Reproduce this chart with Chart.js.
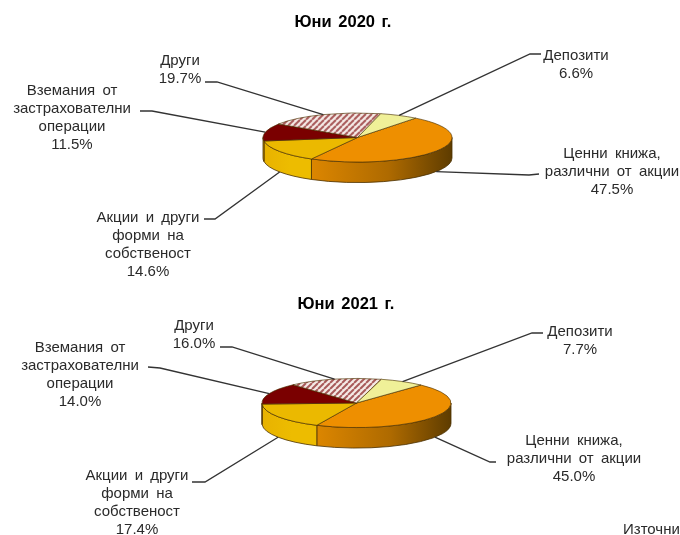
<!DOCTYPE html>
<html>
<head>
<meta charset="utf-8">
<title>Юни 2020 - Юни 2021</title>
<script src="https://cdn.jsdelivr.net/npm/chart.js@4"></script>
<style>
    html, body { margin: 0; padding: 0; background: #fff; overflow: hidden; }
    canvas { position: absolute; left: 0; filter: blur(0.3px); }
    #chart2020 { top: 0; }
    #chart2021 { top: 280px; }
</style>
</head>
<body>
<canvas id="chart2020" width="680" height="280"></canvas>
<canvas id="chart2021" width="680" height="255"></canvas>
<script>
// Data
const categories = ['Ценни книжа, различни от акции', 'Акции и други форми на собственост', 'Вземания от застрахователни операции', 'Други', 'Депозити'];
const values2020 = [47.5, 14.6, 11.5, 19.7, 6.6];
const values2021 = [45.0, 17.4, 14.0, 16.0, 7.7];
const categoryLines = [
    ['Ценни книжа,', 'различни от акции'],
    ['Акции и други', 'форми на', 'собственост'],
    ['Вземания от', 'застрахователни', 'операции'],
    ['Други'],
    ['Депозити']
];

// Colors
const topColors = ['#EE8F00', '#EBB900', '#7A0000', null, '#F0F098'];
const wallColors = [
    ['#DC8600', '#AE6A00', '#5E3C00'],
    ['#E8B200', '#EDBC00', '#EDBC00'],
    ['#E8B200', '#E8B200', '#E8B200'],
    ['#B07070', '#B07070', '#B07070'],
    ['#D8D880', '#D8D880', '#D8D880']
];
const edgeColor = '#4A3000';
const leaderColor = '#333';
const textColor = '#2a2a2a';

// Label layout per category: text center x, first line y, leader start/elbow, wall anchor
const layout2020 = [
    { x: 612, y: 153.5, from: [539, 174], elbow: [529, 175], wall: true },
    { x: 148, y: 217.5, from: [204, 219], elbow: [215, 219], wall: true },
    { x: 72, y: 90.5, from: [140, 111], elbow: [152, 111], wall: false },
    { x: 180, y: 61, from: [205, 82], elbow: [217, 82], wall: false },
    { x: 576, y: 55.5, from: [541, 54], elbow: [530, 54], wall: false }
];
const layout2021 = [
    { x: 574, y: 160.5, from: [496, 182], elbow: [490, 182], wall: true },
    { x: 137, y: 195.5, from: [192, 202], elbow: [205, 202], wall: true },
    { x: 80, y: 67.5, from: [148, 87], elbow: [160, 88], wall: false },
    { x: 194, y: 46, from: [220, 67], elbow: [232, 67], wall: false },
    { x: 580, y: 51.5, from: [543, 53], elbow: [532, 53], wall: false }
];

const squash = 0.26;
const depth = 20.5;

// Helper: hatch pattern for "Други"
function makeHatch() {
    const size = 6;
    const c = document.createElement('canvas');
    c.width = size;
    c.height = size;
    const g = c.getContext('2d');
    g.fillStyle = '#F6ECE8';
    g.fillRect(0, 0, size, size);
    g.strokeStyle = '#A85858';
    g.lineWidth = 2;
    g.beginPath();
    for (let i = -size; i <= size * 2; i += size) {
        g.moveTo(i, size);
        g.lineTo(i + size, 0);
    }
    g.stroke();
    const pattern = g.createPattern(c, 'repeat');
    // the pie is drawn squashed, keep the hatch square
    pattern.setTransform(new DOMMatrix().scale(1, 1 / squash));
    return pattern;
}

// Plugin: squash the pie and draw the side wall under it
const pie3d = {
    id: 'pie3d',
    beforeDatasetsDraw(chart) {
        const ctx = chart.ctx;
        const arcs = chart.getDatasetMeta(0).data;
        const cx = arcs[0].x, cy = arcs[0].y, rx = arcs[0].outerRadius, ry = rx * squash;

        ctx.save();
        ctx.strokeStyle = edgeColor;
        ctx.lineWidth = 0.8;
        arcs.forEach((arc, i) => {
            [-2, 0, 2].forEach(k => {
                const lo = Math.max(arc.startAngle, k * Math.PI);
                const hi = Math.min(arc.endAngle, (k + 1) * Math.PI);
                if (hi <= lo) return;
                const grad = ctx.createLinearGradient(cx + rx * Math.cos(hi), 0, cx + rx * Math.cos(lo), 0);
                grad.addColorStop(0, wallColors[i][0]);
                grad.addColorStop(0.55, wallColors[i][1]);
                grad.addColorStop(1, wallColors[i][2]);
                ctx.beginPath();
                ctx.ellipse(cx, cy, rx, ry, 0, lo, hi);
                ctx.ellipse(cx, cy + depth, rx, ry, 0, hi, lo, true);
                ctx.closePath();
                ctx.fillStyle = grad;
                ctx.fill();
                ctx.stroke();
            });
        });
        ctx.restore();

        ctx.save();
        ctx.translate(cx, cy);
        ctx.scale(1, squash);
        ctx.translate(-cx, -cy);
    },
    afterDatasetsDraw(chart) {
        chart.ctx.restore();
    }
};

// Plugin: title, labels and leader lines
const pieLabels = {
    id: 'pieLabels',
    afterDraw(chart, args, opts) {
        const ctx = chart.ctx;
        const arcs = chart.getDatasetMeta(0).data;
        ctx.save();
        ctx.textAlign = 'center';
        ctx.textBaseline = 'middle';

        ctx.fillStyle = '#000';
        ctx.font = 'bold 16.5px "Liberation Sans"';
        ctx.wordSpacing = '2px';
        ctx.fillText(opts.title, opts.titleX, opts.titleY);

        arcs.forEach((arc, i) => {
            const item = opts.layout[i];
            const mid = (arc.startAngle + arc.endAngle) / 2;
            const endX = arc.x + arc.outerRadius * Math.cos(mid);
            const endY = arc.y + arc.outerRadius * squash * Math.sin(mid) + (item.wall ? depth : 0);

            ctx.strokeStyle = leaderColor;
            ctx.lineWidth = 1.3;
            ctx.beginPath();
            ctx.moveTo(item.from[0], item.from[1]);
            ctx.lineTo(item.elbow[0], item.elbow[1]);
            ctx.lineTo(endX, endY);
            ctx.stroke();

            ctx.fillStyle = textColor;
            ctx.font = '15px "Liberation Sans"';
            ctx.wordSpacing = '3px';
            const lines = categoryLines[i].concat(opts.values[i].toFixed(1) + '%');
            lines.forEach((line, n) => {
                ctx.fillText(line, item.x, item.y + n * 18.2);
            });
        });

        if (opts.note) {
            ctx.textAlign = 'left';
            ctx.fillText(opts.note, opts.noteX, opts.noteY);
        }
        ctx.restore();
    }
};

// Render one pie
function renderPie(id, values, rotation, padding, labelOptions) {
    const hatch = makeHatch();
    new Chart(document.getElementById(id), {
        type: 'pie',
        data: {
            labels: categories,
            datasets: [{
                data: values,
                backgroundColor: topColors.map(c => c || hatch),
                borderColor: edgeColor,
                borderWidth: 1
            }]
        },
        options: {
            responsive: false,
            animation: false,
            rotation: rotation,
            radius: 94.5,
            layout: { padding: padding },
            plugins: {
                legend: { display: false },
                tooltip: { enabled: false },
                pieLabels: labelOptions
            }
        },
        plugins: [pie3d, pieLabels]
    });
}

renderPie('chart2020', values2020, 38, { left: 35, bottom: 5 }, {
    title: 'Юни 2020 г.', titleX: 343, titleY: 22,
    values: values2020, layout: layout2020
});

renderPie('chart2021', values2021, 43, { left: 33, bottom: 9 }, {
    title: 'Юни 2021 г.', titleX: 346, titleY: 24,
    values: values2021, layout: layout2021,
    note: 'Източни', noteX: 623, noteY: 250
});
</script>
</body>
</html>
